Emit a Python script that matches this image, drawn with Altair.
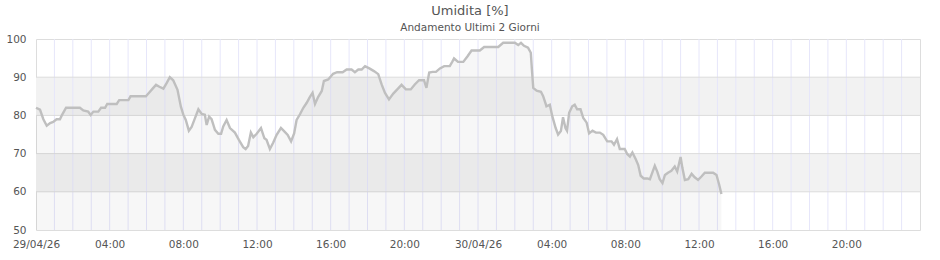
import json
import altair as alt
import pandas as pd

# ---- data ----
day1_times = ["00:00","00:13","00:24","00:35","00:46","00:56","01:07","01:18","01:24","01:38",
              "02:23","02:34","02:50","02:58","03:07","03:23","03:32","03:45","03:52","04:23",
              "04:31","05:01","05:08","05:58","06:09","06:20","06:31","06:42","06:55","07:06",
              "07:16","07:27","07:41","07:52","08:00","08:08","08:18","08:27","08:38","08:49",
              "09:00","09:10","09:16","09:24","09:32","09:43","09:54","10:03","10:10","10:21",
              "10:32","10:48","11:01","11:15","11:23","11:31","11:40","11:48","11:59","12:13",
              "12:24","12:31","12:42","12:53","13:04","13:18","13:29","13:40","13:51","14:01",
              "14:09","14:20","14:31","14:42","14:52","15:01","15:09","15:19","15:31","15:38",
              "15:52","16:08","16:21","16:39","16:52","17:08","17:19","17:30","17:41","17:52",
              "18:06","18:21","18:35","18:46","18:57","19:10","19:24","19:37","19:51","20:05",
              "20:21","20:34","20:48","21:04","21:12","21:21","21:32","21:43","21:56","22:10",
              "22:28","22:36","22:42","22:55","23:12","23:26","23:39"]
day1_values = [82,81.5,79,77.3,78,78.3,79,79,80,82,
               82,81.3,81,80.1,81,81,82,82,83,83,
               84,84,85,85,86,87,88,87.5,87,88.5,
               90,89.2,86.7,82.3,80.2,78.8,76,77,79.3,81.6,
               80.4,80.2,77.5,79.7,79,76.2,75.2,75.2,77.1,78.8,
               76.7,75.5,73.6,71.7,71.2,72,75.5,74.3,75.2,76.7,
               74,73.6,71.2,72.9,74.9,76.7,75.8,74.9,73.2,75.3,
               78.8,80.3,82,83.3,84.8,85.9,83,84.8,86.4,89,
               89.4,90.9,91.3,91.3,92,92,91.3,92,92,92.9,
               92.3,91.6,90.8,88.1,85.9,84.2,85.7,86.8,88,86.8,
               86.8,88.1,89.2,89.2,87.2,91.2,91.4,91.4,92.3,92.9,
               92.9,94,94.9,94,94,95.5,97]
day2_times = ["00:06","00:20","01:06","01:22","02:00","02:11","02:20","02:30","02:43","02:52",
              "02:56","03:00","03:11","03:25","03:32","03:43","03:54","04:02","04:13","04:21",
              "04:30","04:37","04:45","04:50","04:57","05:07","05:15","05:23","05:34","05:43",
              "05:54","06:02","06:13","06:24","06:37","06:48","07:01","07:15","07:23","07:33",
              "07:42","07:58","08:06","08:15","08:23","08:34","08:42","08:50","09:00","09:11",
              "09:20","09:29","09:36","09:44","09:52","10:01","10:09","10:19","10:30","10:41",
              "10:49","11:00","11:06","11:14","11:25","11:36","11:46","11:57","12:08","12:19",
              "12:46","12:57","13:06","13:13"]
day2_values = [97,97.9,97.9,99,99,98.4,99,98.2,97.7,96.4,
               91.6,87.2,86.5,86.2,85.1,82.4,82.8,79.8,76.7,75,
               75.9,79.5,76.7,76,80.7,82.4,82.8,81.6,81.6,79.3,
               78.1,75.3,76,75.5,75.5,74.9,73.2,73.2,72.3,73.8,
               71.2,71.2,69.9,69.2,70.3,68.5,67,64.2,63.5,63.5,
               63.3,65.3,66.8,65.3,63.3,62.3,64.4,65,65.5,66.6,
               65.3,69.1,66.2,63.1,63.3,64.7,63.8,63.1,64,65,
               65,64.4,61.8,59.4]

x_tick_labels = ["29/04/26","04:00","08:00","12:00","16:00","20:00",
                 "30/04/26","04:00","08:00","12:00","16:00","20:00"]
y_ticks = [50, 60, 70, 80, 90, 100]
band_lo = [60, 80]
band_hi = [70, 90]
TOTAL_MIN = 48 * 60
Y_MIN, Y_MAX = 50, 100

def to_min(day, t):
    h, m = t.split(":")
    return day * 1440 + int(h) * 60 + int(m)

df = pd.DataFrame({
    "t": [to_min(0, t) for t in day1_times] + [to_min(1, t) for t in day2_times],
    "v": day1_values + day2_values,
})
df["base"] = Y_MIN

bands = pd.DataFrame({"lo": band_lo, "hi": band_hi, "x0": 0, "x1": TOTAL_MIN})
vgrid = pd.DataFrame({"t": [h * 60 for h in range(1, 48)], "y0": Y_MIN, "y1": Y_MAX})
hgrid = pd.DataFrame({"v": y_ticks[1:-1], "x0": 0, "x1": TOTAL_MIN})

xscale = alt.Scale(domain=[0, TOTAL_MIN], nice=False, zero=False)
yscale = alt.Scale(domain=[Y_MIN, Y_MAX], nice=False, zero=False)

label_expr = json.dumps(x_tick_labels) + "[datum.value / 240] || ''"

common = dict(title=None, grid=False, ticks=False, tickSize=0, domain=False,
              labelOverlap=False, labelFlush=False, labelFontSize=10.5,
              labelColor="#555", labelFont="DejaVu Sans")
x_axis = alt.Axis(values=list(range(0, TOTAL_MIN, 240)), labelExpr=label_expr,
                  labelPadding=9, **common)
y_axis = alt.Axis(values=y_ticks, labelPadding=10, **common)

band_layer = alt.Chart(bands).mark_rect(color="#f2f2f2").encode(
    x=alt.X("x0:Q", scale=xscale, axis=x_axis),
    x2="x1:Q",
    y=alt.Y("lo:Q", scale=yscale, axis=y_axis),
    y2="hi:Q",
)
vgrid_layer = alt.Chart(vgrid).mark_rule(color="#e6e6fa", strokeWidth=1).encode(
    x=alt.X("t:Q", scale=xscale, axis=x_axis), y=alt.Y("y0:Q", scale=yscale, axis=y_axis), y2="y1:Q"
)
hgrid_layer = alt.Chart(hgrid).mark_rule(color="#dcdcdc", strokeWidth=1).encode(
    x=alt.X("x0:Q", scale=xscale, axis=x_axis), x2="x1:Q", y=alt.Y("v:Q", scale=yscale, axis=y_axis)
)
area_layer = alt.Chart(df).mark_area(color="#000000", opacity=0.03, interpolate="linear").encode(
    x=alt.X("t:Q", scale=xscale, axis=x_axis), y=alt.Y("v:Q", scale=yscale, axis=y_axis), y2="base:Q"
)
line_layer = alt.Chart(df).mark_line(color="#bfbfbf", strokeWidth=2.4, interpolate="linear").encode(
    x=alt.X("t:Q", scale=xscale, axis=x_axis), y=alt.Y("v:Q", scale=yscale, axis=y_axis)
)

chart = alt.layer(band_layer, vgrid_layer, hgrid_layer, area_layer, line_layer).properties(
    width=884, height=191,
    autosize=alt.AutoSizeParams(type="none"),
    padding={"left": 36, "top": 39, "right": 20, "bottom": 30},
    title=alt.TitleParams(
        "Umidita [%]", subtitle="Andamento Ultimi 2 Giorni",
        fontSize=13, fontWeight="normal", color="#555", font="DejaVu Sans",
        subtitleFontSize=10.5, subtitleColor="#555", subtitleFont="DejaVu Sans",
        anchor="middle", dx=-8, offset=1, subtitlePadding=5,
    ),
).configure_axis(
    grid=False, ticks=False, tickSize=0, domain=False, labelOverlap=False,
    labelFlush=False, labelFontSize=10.5, labelColor="#555", labelFont="DejaVu Sans",
).configure_view(stroke="#d9d9d9", strokeWidth=1).configure(background="white")

chart.save("out.html", embed_options={"renderer": "svg", "actions": False})
